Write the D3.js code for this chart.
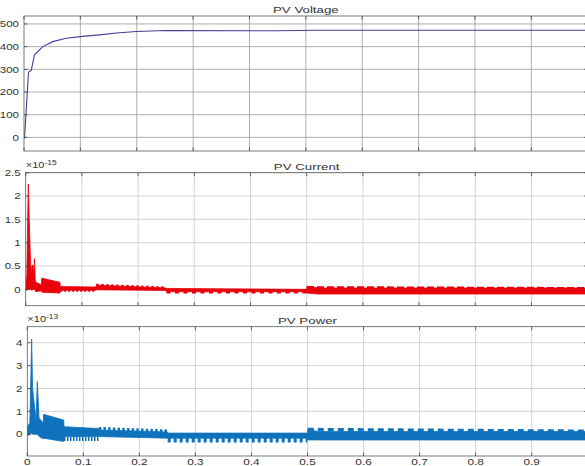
<!DOCTYPE html>
<html>
<head>
<meta charset="utf-8">
<script src="https://cdn.jsdelivr.net/npm/d3@7"></script>
<style>
  html, body { margin: 0; padding: 0; background: #fff; overflow: hidden; }
  svg { display: block; }
  text { font-family: "Liberation Sans", Arial, sans-serif; fill: #333; }
</style>
</head>
<body>
<div id="chart"></div>
<script>
// shared time axis (s)
var xTicks = [0, 0.1, 0.2, 0.3, 0.4, 0.5, 0.6, 0.7, 0.8, 0.9];
var xTickLabels = ["0", "0.1", "0.2", "0.3", "0.4", "0.5", "0.6", "0.7", "0.8", "0.9"];

// PV voltage (V)
var voltT = [0, 0.001, 0.008, 0.0128, 0.0186, 0.0334, 0.051, 0.075, 0.104, 0.134, 0.164, 0.199, 0.252, 0.45, 0.52, 1.0];
var voltV = [-5, 0, 287, 295, 364, 400, 422, 437, 445, 452, 460, 467, 471, 470, 472, 472];
var voltTicks = [0, 100, 200, 300, 400, 500];
var voltTickLabels = ["0", "100", "200", "300", "400", "500"];

// PV current (x1e-15 A), upper / lower envelope of the ripple band
var curT  = [0, 0.002, 0.0046, 0.006, 0.0085, 0.0105, 0.011, 0.013, 0.0145, 0.0156, 0.017, 0.018, 0.028, 0.0285, 0.061, 0.0615, 0.125, 0.1255, 0.25, 0.2505, 0.5, 0.5005, 0.52, 1.0];
var curHi = [0.1, 0.3, 2.26, 1.6, 0.6, 0.3, 0.5, 0.52, 0.3, 0.66, 0.2, 0.15, 0.1, 0.24, 0.15, 0.06, 0.05, 0.09, 0.03, 0.02, 0.0, 0.07, 0.03, 0.03];
var curLo = [0, -0.02, 0, 0, 0, -0.02, -0.02, 0, 0, 0, -0.03, -0.05, -0.03, -0.06, -0.08, -0.02, -0.02, -0.01, -0.02, -0.05, -0.05, -0.08, -0.1, -0.1];
// ripple teeth: [t start, t end, tooth tip at start, tooth tip at end]
var curTeeth = [[0.0615, 0.125, -0.05, -0.05], [0.1255, 0.25, 0.12, 0.06], [0.2505, 0.5, -0.09, -0.09], [0.5005, 1.0, 0.07, 0.05]];
var curTicks = [0, 0.5, 1, 1.5, 2, 2.5];
var curTickLabels = ["0", "0.5", "1", "1.5", "2", "2.5"];

// PV power (x1e-13 W)
var powT  = [0, 0.002, 0.0045, 0.0078, 0.0095, 0.0137, 0.0155, 0.0178, 0.021, 0.0285, 0.029, 0.065, 0.0655, 0.127, 0.1275, 0.25, 0.2505, 0.5, 0.5005, 0.52, 1.0];
var powHi = [0.3, 0.4, 0.5, 4.15, 2.0, 1.05, 0.6, 2.3, 0.7, 0.5, 0.87, 0.62, 0.33, 0.25, 0.19, 0.1, 0.05, 0.05, 0.2, 0.12, 0.12];
var powLo = [0, -0.05, 0, 0.05, 0, 0, 0, 0, -0.1, -0.2, -0.17, -0.32, -0.1, -0.1, -0.1, -0.17, -0.17, -0.17, -0.25, -0.25, -0.25];
var powTeeth = [[0.0655, 0.127, -0.3, -0.3], [0.1275, 0.25, 0.33, 0.2], [0.2505, 0.5, -0.36, -0.36], [0.5005, 1.0, 0.28, 0.21]];
var powTicks = [0, 1, 2, 3, 4];
var powTickLabels = ["0", "1", "2", "3", "4"];

var width = 585, height = 466, rightEdge = 587.7;

var svg = d3.select("#chart").append("svg")
  .attr("width", width)
  .attr("height", height);

// the figure's text is stretched wide, so scale it horizontally
function label(g, x, y, txt, anchor, size, sx) {
  return g.append("text")
    .attr("transform", "translate(" + x + "," + y + ") scale(" + (sx || 1.4) + ",1)")
    .attr("text-anchor", anchor)
    .style("font-size", size + "px")
    .text(txt);
}

var panels = [
  { title: "PV Voltage", left: 24, top: 16, bottom: 151, domain: [-60, 535],
    ticks: voltTicks, labels: voltTickLabels, grid: "#a6a6a6", exp: null,
    line: { t: voltT, v: voltV, color: "#40409c" } },
  { title: "PV Current", left: 25.7, top: 172.7, bottom: 305.7, domain: [-0.35, 2.5],
    ticks: curTicks, labels: curTickLabels, grid: "#cfcfcf", exp: "-15",
    band: { t: curT, hi: curHi, lo: curLo, teeth: curTeeth, color: "#e8000b",
            dash: ["2,2", "2.5,2.5", "4,4.5", "7,3"] } },
  { title: "PV Power", left: 27.3, top: 326.7, bottom: 456, domain: [-0.95, 4.7],
    ticks: powTicks, labels: powTickLabels, grid: "#cfcfcf", exp: "-13", xlabels: true,
    band: { t: powT, hi: powHi, lo: powLo, teeth: powTeeth, color: "#0f72bd",
            dash: ["1.5,1.5", "2.5,2.2", "3,3", "6,4"] } }
];

panels.forEach(function(p, k) {
  var x = d3.scaleLinear().domain([0, 1]).range([p.left, rightEdge]);
  var y = d3.scaleLinear().domain(p.domain).range([p.bottom, p.top]);
  var g = svg.append("g");

  // grid
  g.selectAll("line.vg").data(xTicks.slice(1)).enter().append("line")
    .attr("x1", function(d) { return x(d); }).attr("x2", function(d) { return x(d); })
    .attr("y1", p.top).attr("y2", p.bottom)
    .style("stroke", p.grid).style("stroke-width", 0.9);
  g.selectAll("line.hg").data(p.ticks).enter().append("line")
    .attr("x1", p.left).attr("x2", rightEdge)
    .attr("y1", function(d) { return y(d); }).attr("y2", function(d) { return y(d); })
    .style("stroke", p.grid).style("stroke-width", 0.9);

  // data
  var clipId = "clip" + k;
  g.append("clipPath").attr("id", clipId).append("rect")
    .attr("x", p.left).attr("y", p.top)
    .attr("width", rightEdge - p.left).attr("height", p.bottom - p.top);
  var dg = g.append("g").attr("clip-path", "url(#" + clipId + ")");

  if (p.line) {
    var pts = p.line.t.map(function(t, i) { return [t, p.line.v[i]]; });
    dg.append("path")
      .datum(pts)
      .attr("d", d3.line().x(function(d) { return x(d[0]); }).y(function(d) { return y(d[1]); }))
      .style("fill", "none")
      .style("stroke", p.line.color)
      .style("stroke-width", 1.1);
  }
  if (p.band) {
    var b = p.band;
    var rows = b.t.map(function(t, i) { return { t: t, hi: b.hi[i], lo: b.lo[i] }; });
    var area = d3.area()
      .x(function(d) { return x(d.t); })
      .y0(function(d) { return Math.max(y(d.lo), y(d.hi) + 2.5); })
      .y1(function(d) { return y(d.hi); });
    dg.append("path").datum(rows)
      .attr("d", area)
      .style("fill", b.color)
      .style("stroke", b.color)
      .style("stroke-width", 0.8);
    // teeth sit on the band edge they point away from
    b.teeth.forEach(function(s, i) {
      var i0 = b.t.indexOf(s[0]), i1 = b.t.indexOf(s[1]);
      var up = s[2] > b.hi[i0];
      var e0 = y(up ? b.hi[i0] : b.lo[i0]) + (up ? 1.5 : -1.5);
      var e1 = y(up ? b.hi[i1] : b.lo[i1]) + (up ? 1.5 : -1.5);
      var t0 = y(s[2]), t1 = y(s[3]);
      var w = (Math.abs(e0 - t0) + Math.abs(e1 - t1)) / 2;
      dg.append("line")
        .attr("x1", x(s[0])).attr("x2", x(s[1]))
        .attr("y1", (e0 + t0) / 2).attr("y2", (e1 + t1) / 2)
        .style("stroke", b.color)
        .style("stroke-width", w)
        .style("stroke-dasharray", b.dash[i]);
    });
  }

  // box
  g.append("rect")
    .attr("x", p.left).attr("y", p.top)
    .attr("width", rightEdge - p.left).attr("height", p.bottom - p.top)
    .style("fill", "none").style("stroke", "#5a5a5a").style("stroke-width", 0.8);

  // inner ticks
  xTicks.forEach(function(d) {
    g.append("line").attr("x1", x(d)).attr("x2", x(d)).attr("y1", p.bottom).attr("y2", p.bottom - 3.5)
      .style("stroke", "#444").style("stroke-width", 0.8);
    g.append("line").attr("x1", x(d)).attr("x2", x(d)).attr("y1", p.top).attr("y2", p.top + 3.5)
      .style("stroke", "#444").style("stroke-width", 0.8);
  });
  p.ticks.forEach(function(d) {
    g.append("line").attr("x1", p.left).attr("x2", p.left + 3.5).attr("y1", y(d)).attr("y2", y(d))
      .style("stroke", "#444").style("stroke-width", 0.8);
    g.append("line").attr("x1", rightEdge - 3.5).attr("x2", rightEdge).attr("y1", y(d)).attr("y2", y(d))
      .style("stroke", "#444").style("stroke-width", 0.8);
  });

  // y tick labels
  p.ticks.forEach(function(d, i) {
    label(g, p.left - 5, y(d) + 3.2, p.labels[i], "end", 9, 1.28);
  });

  // title
  label(g, (p.left + rightEdge) / 2, p.top - 2.8, p.title, "middle", 9.5);

  // exponent
  if (p.exp) {
    var t = label(g, p.left, p.top - 4.5, "\u00d710", "start", 8.5, 1.3);
    t.append("tspan").attr("dy", -3.5).style("font-size", "6.5px").text(p.exp);
  }

  // x tick labels, tucked just above the bottom edge
  if (p.xlabels) {
    xTicks.forEach(function(d, i) {
      label(g, x(d), 465, xTickLabels[i], "middle", 8.8, 1.35);
    });
  }
});
</script>
</body>
</html>
